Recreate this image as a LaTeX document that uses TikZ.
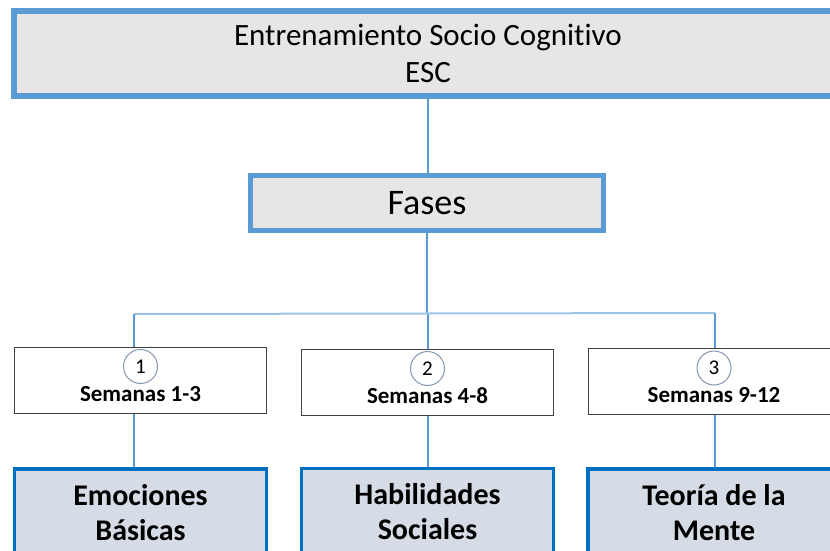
\documentclass[tikz,border=0pt]{standalone}
\usepackage{fontspec}
\setmainfont[Ligatures=CommonOff]{Carlito}

\definecolor{azulclaro}{HTML}{5B9BD5}
\definecolor{azulbus}{HTML}{9DC3E6}
\definecolor{azulfuerte}{HTML}{0070C0}
\definecolor{grisclaro}{HTML}{E6E6E6}
\definecolor{grisazul}{HTML}{D6DCE5}
\definecolor{grisoscuro}{HTML}{404040}
\definecolor{bordenum}{HTML}{8497B0}

\begin{document}
\begin{tikzpicture}[x=1pt, y=-1pt,
    titulo/.style={draw=azulclaro, line width=5.5pt, fill=grisclaro, inner sep=0pt, align=center},
    semana/.style={draw=grisoscuro, line width=1pt, fill=white, minimum width=252, minimum height=66, inner sep=0pt},
    tema/.style={draw=azulfuerte, line width=3.5pt, fill=grisazul, minimum width=252, minimum height=87, inner sep=0pt,
                 align=center, font=\fontsize{30}{35}\selectfont\bfseries},
    numero/.style={circle, draw=bordenum, line width=1pt, fill=white, minimum size=34, inner sep=0pt,
                   font=\fontsize{21}{21}\selectfont},
    enlace/.style={draw=azulclaro, line width=1.2pt},
    bus/.style={draw=azulbus, line width=2pt}]

    \clip (0,0) rectangle (830,551);

    % -- Parte Superior: titulo y fases --
    \node[titulo, minimum width=828, minimum height=85, font=\fontsize{31}{37}\selectfont]
        (esc) at (428,53.5) {Entrenamiento Socio Cognitivo\\ESC};
    \node[titulo, line width=5pt, minimum width=353, minimum height=55, font=\fontsize{36}{36}\selectfont]
        (fases) at (427,203) {Fases};

    % -- Parte Central: semanas --
    \node[semana, minimum width=252.5] (fase1) at (140.5,380) {};
    \node[semana] (fase2) at (427.5,382) {};
    \node[semana] (fase3) at (714,381.5) {};

    \foreach \i/\txt in {1/Semanas 1-3, 2/Semanas 4-8, 3/Semanas 9-12} {
        \node[numero] (num\i) at ([yshift=13.5]fase\i.center) {\i};
        \node[font=\fontsize{23}{23}\selectfont\bfseries, inner sep=0pt] (sem\i) at ([yshift=-14]fase\i.center) {\txt};
    }

    % -- Parte Inferior: temas --
    \node[tema] (tema1) at (140.5,512.5) {Emociones\\Básicas};
    \node[tema] (tema2) at (427.5,512) {Habilidades\\Sociales};
    \node[tema] (tema3) at (714,512.5) {Teoría de la\\Mente};

    % Conectores
    \coordinate (bus1) at (134,314);
    \coordinate (bus2) at (428,313.5);
    \coordinate (bus3) at (715,313);

    \draw[enlace] (esc.south) -- (esc.south |- fases.north);
    \draw[enlace] (fases.south) -- (fases.south |- bus2);
    \draw[bus] (bus1) -- (bus3);

    \foreach \i in {1,2,3} {
        \draw[enlace] (bus\i) -- (bus\i |- fase\i.north);
        \draw[enlace] (fase\i.south -| bus\i) -- (bus\i |- tema\i.north);
    }
\end{tikzpicture}
\end{document}
